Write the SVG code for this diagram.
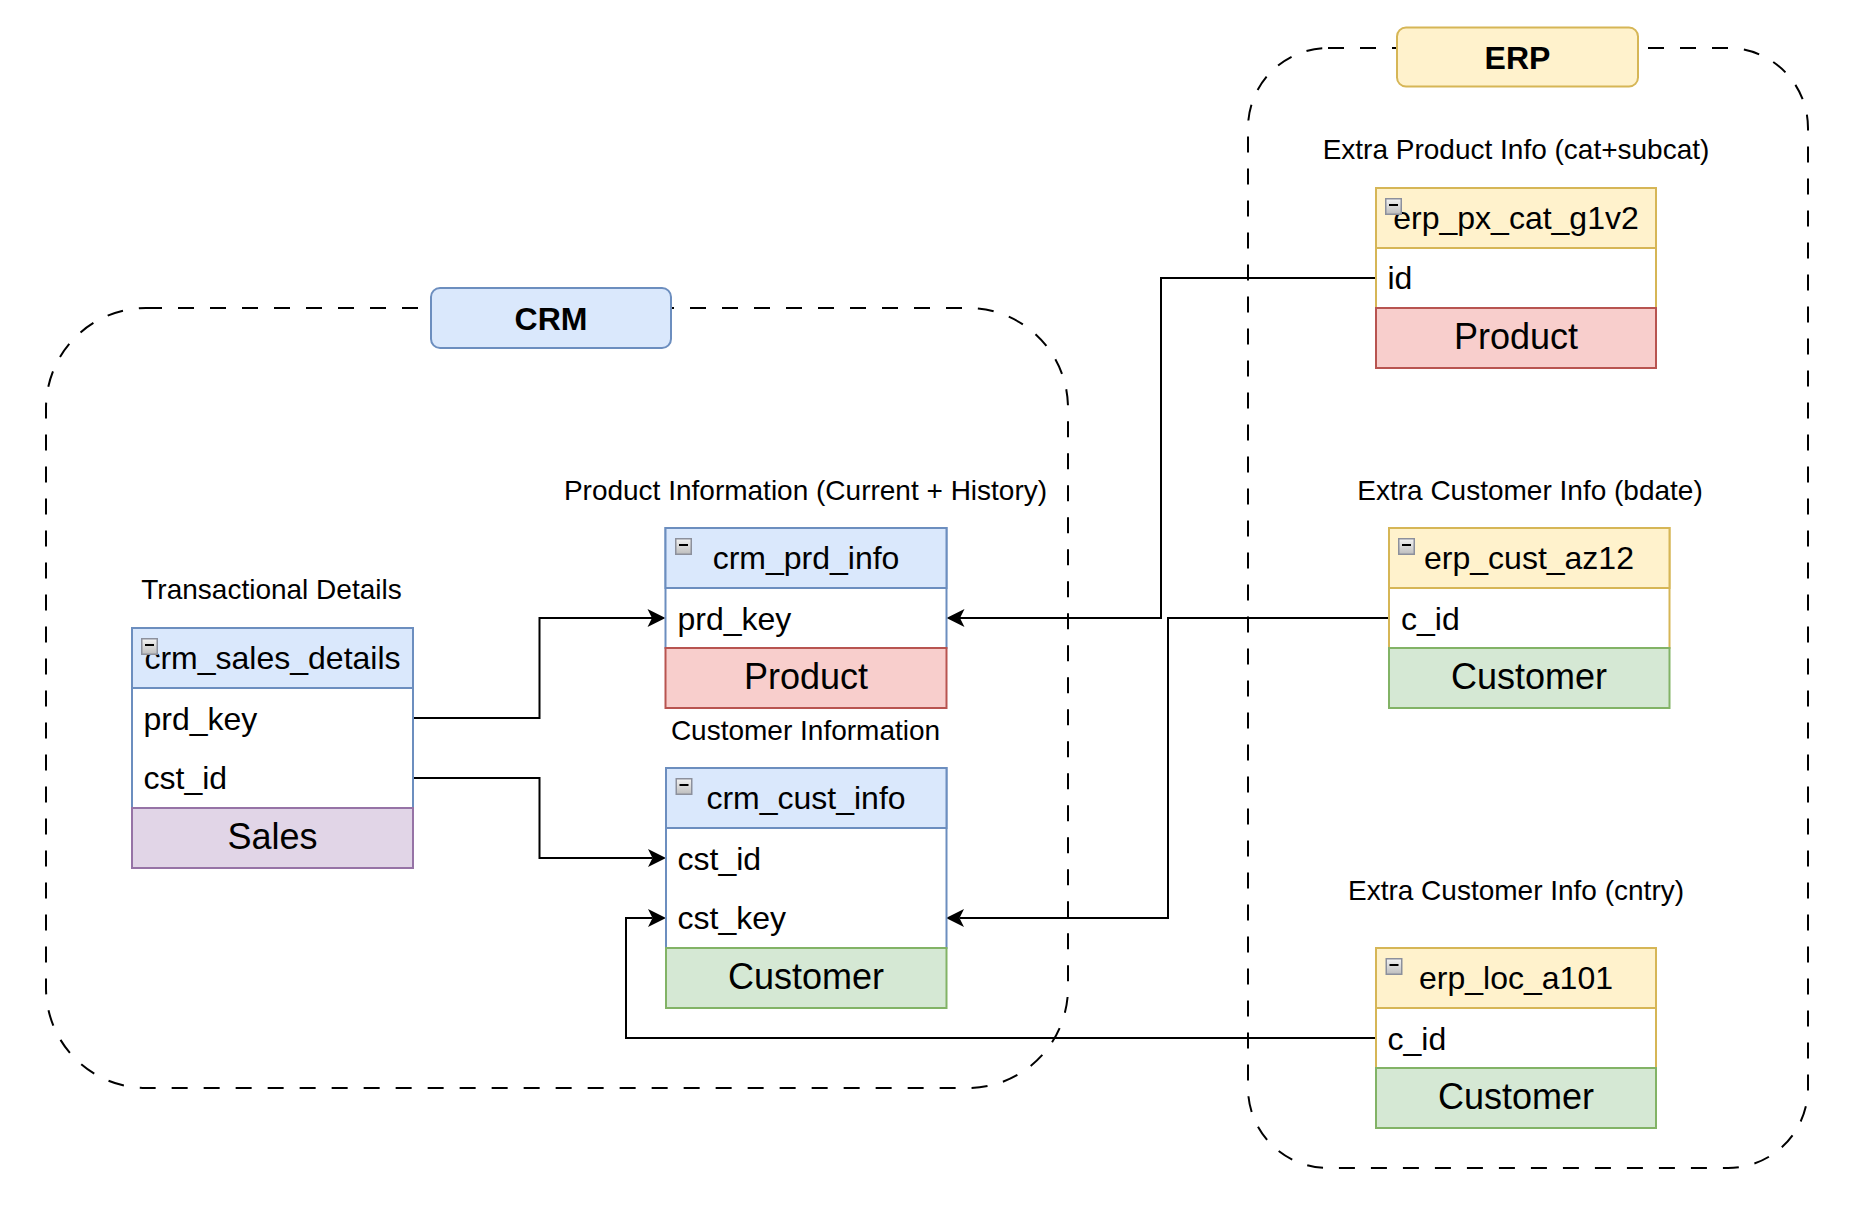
<svg xmlns="http://www.w3.org/2000/svg" width="1868" height="1226" viewBox="0 0 1868 1226">
<style>
text { font-family: "Liberation Sans", Arial, Helvetica, sans-serif; fill: #000000; }
.group { fill: none; stroke: #000000; stroke-width: 2; stroke-dasharray: 16 16; }
.title-crm { fill: #dae8fc; stroke: #6c8ebf; stroke-width: 2; }
.title-erp { fill: #fff2cc; stroke: #d6b656; stroke-width: 2; }
.t-title { font-size: 32px; font-weight: bold; text-anchor: middle; }
.body-crm { fill: #ffffff; stroke: #6c8ebf; stroke-width: 2; }
.hdr-crm { fill: #dae8fc; stroke: #6c8ebf; stroke-width: 2; }
.body-erp { fill: #ffffff; stroke: #d6b656; stroke-width: 2; }
.hdr-erp { fill: #fff2cc; stroke: #d6b656; stroke-width: 2; }
.ftr-red { fill: #f8cecc; stroke: #b85450; stroke-width: 2; }
.ftr-green { fill: #d5e8d4; stroke: #82b366; stroke-width: 2; }
.ftr-purple { fill: #e1d5e7; stroke: #9673a6; stroke-width: 2; }
.t-hdr { font-size: 32px; text-anchor: middle; }
.t-row { font-size: 32px; }
.t-ftr { font-size: 36px; text-anchor: middle; }
.t-lbl { font-size: 28px; text-anchor: middle; }
.edge { fill: none; stroke: #000000; stroke-width: 2; marker-end: url(#arrow); }
.edge-plain { fill: none; stroke: #000000; stroke-width: 2; }
</style>
<defs>
  <linearGradient id="iconGrad" x1="0" y1="0" x2="0" y2="1">
    <stop offset="0" stop-color="#f4f4f4"/>
    <stop offset="1" stop-color="#bdbdbd"/>
  </linearGradient>
  <g id="icon">
    <rect x="0.75" y="0.75" width="15.5" height="15.5" fill="url(#iconGrad)" stroke="#8c909c" stroke-width="1.5"/>
    <line x1="4" y1="7" x2="13" y2="7" stroke="#000000" stroke-width="2"/>
  </g>
  <marker id="arrow" markerUnits="userSpaceOnUse" viewBox="-5 -10 19 20" markerWidth="19" markerHeight="20" refX="0" refY="0" orient="auto">
    <path d="M13.5,0 L-4.5,-9 L0,0 L-4.5,9 Z" fill="#000000"/>
  </marker>
</defs>
<rect x="0" y="0" width="1868" height="1226" fill="#ffffff"/>

<g id="group-crm">
  <rect class="group" x="46" y="308" width="1022" height="780" rx="100" ry="100"/>
</g>
<g id="group-erp">
  <rect class="group" x="1248" y="48" width="560" height="1120" rx="80" ry="80"/>
</g>

<g id="connectors">
  <path class="edge" d="M413,718 H539.5 V618 H652"/>
  <path class="edge" d="M413,778 H539.5 V858 H652.5"/>
  <path class="edge" d="M1376,278 H1161 V618 H960"/>
  <path class="edge" d="M1389,618 H1168 V918 H959.5"/>
  <path class="edge" d="M1376,1038 H626 V918 H652.5"/>
</g>

<g id="title-crm">
  <rect class="title-crm" x="431" y="288" width="240" height="60" rx="9" ry="9"/>
  <text class="t-title" x="551" y="329.5">CRM</text>
</g>
<g id="title-erp">
  <rect class="title-erp" x="1397" y="27.5" width="241" height="59" rx="9" ry="9"/>
  <text class="t-title" x="1517.5" y="69">ERP</text>
</g>

<g id="label-transactional">
  <text class="t-lbl" x="271.5" y="599">Transactional Details</text>
</g>
<g id="label-product-info">
  <text class="t-lbl" x="805.5" y="500">Product Information (Current + History)</text>
</g>
<g id="label-customer-info">
  <text class="t-lbl" x="805.5" y="740">Customer Information</text>
</g>
<g id="label-extra-product">
  <text class="t-lbl" x="1516" y="159">Extra Product Info (cat+subcat)</text>
</g>
<g id="label-extra-bdate">
  <text class="t-lbl" x="1530" y="499.5">Extra Customer Info (bdate)</text>
</g>
<g id="label-extra-cntry">
  <text class="t-lbl" x="1516" y="900">Extra Customer Info (cntry)</text>
</g>

<g id="crm_sales_details">
  <rect class="body-crm" x="132" y="628" width="281" height="180"/>
  <rect class="hdr-crm" x="132" y="628" width="281" height="60"/>
  <rect class="ftr-purple" x="132" y="808" width="281" height="60"/>
  <text class="t-hdr" x="272.5" y="669.3">crm_sales_details</text>
  <use href="#icon" x="141" y="638"/>
  <text class="t-row" x="143.5" y="729.5">prd_key</text>
  <text class="t-row" x="143.5" y="789">cst_id</text>
  <text class="t-ftr" x="272.5" y="849">Sales</text>
</g>

<g id="crm_prd_info">
  <rect class="body-crm" x="665.5" y="528" width="281" height="120"/>
  <rect class="hdr-crm" x="665.5" y="528" width="281" height="60"/>
  <rect class="ftr-red" x="665.5" y="648" width="281" height="60"/>
  <use href="#icon" x="675" y="538"/>
  <text class="t-hdr" x="806" y="569.3">crm_prd_info</text>
  <text class="t-row" x="677.5" y="630">prd_key</text>
  <text class="t-ftr" x="806" y="689">Product</text>
</g>

<g id="crm_cust_info">
  <rect class="body-crm" x="666" y="768" width="280.5" height="180"/>
  <rect class="hdr-crm" x="666" y="768" width="280.5" height="60"/>
  <rect class="ftr-green" x="666" y="948" width="280.5" height="60"/>
  <use href="#icon" x="675.5" y="778"/>
  <text class="t-hdr" x="806" y="809.3">crm_cust_info</text>
  <text class="t-row" x="677.5" y="869.5">cst_id</text>
  <text class="t-row" x="677.5" y="929">cst_key</text>
  <text class="t-ftr" x="806" y="989">Customer</text>
</g>

<g id="erp_px_cat_g1v2">
  <rect class="body-erp" x="1376" y="188" width="280" height="120"/>
  <rect class="hdr-erp" x="1376" y="188" width="280" height="60"/>
  <rect class="ftr-red" x="1376" y="308" width="280" height="60"/>
  <text class="t-hdr" x="1516" y="229.3">erp_px_cat_g1v2</text>
  <use href="#icon" x="1385" y="198"/>
  <text class="t-row" x="1387.5" y="289">id</text>
  <text class="t-ftr" x="1516" y="349">Product</text>
</g>

<g id="erp_cust_az12">
  <rect class="body-erp" x="1389" y="528" width="280.5" height="120"/>
  <rect class="hdr-erp" x="1389" y="528" width="280.5" height="60"/>
  <rect class="ftr-green" x="1389" y="648" width="280.5" height="60"/>
  <use href="#icon" x="1398" y="538"/>
  <text class="t-hdr" x="1529" y="569.3">erp_cust_az12</text>
  <text class="t-row" x="1401" y="629.5">c_id</text>
  <text class="t-ftr" x="1529" y="689">Customer</text>
</g>

<g id="erp_loc_a101">
  <rect class="body-erp" x="1376" y="948" width="280" height="120"/>
  <rect class="hdr-erp" x="1376" y="948" width="280" height="60"/>
  <rect class="ftr-green" x="1376" y="1068" width="280" height="60"/>
  <use href="#icon" x="1385.5" y="958"/>
  <text class="t-hdr" x="1516" y="989.3">erp_loc_a101</text>
  <text class="t-row" x="1387.5" y="1049.5">c_id</text>
  <text class="t-ftr" x="1516" y="1109">Customer</text>
</g>
</svg>
